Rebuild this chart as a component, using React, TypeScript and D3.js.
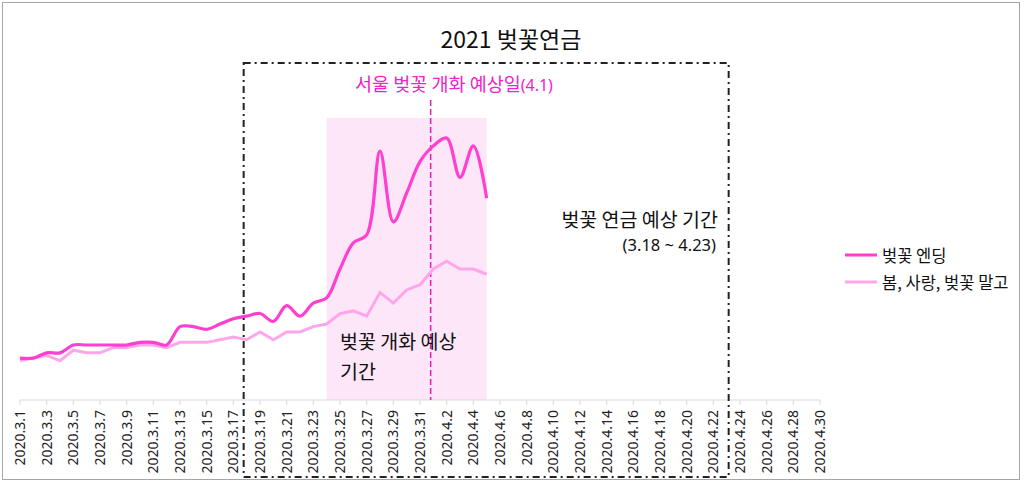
import React from 'react';
import * as d3 from 'd3';

// x축 라벨 (2일 간격)
const tickLabels = [
  '2020.3.1', '2020.3.3', '2020.3.5', '2020.3.7', '2020.3.9', '2020.3.11',
  '2020.3.13', '2020.3.15', '2020.3.17', '2020.3.19', '2020.3.21', '2020.3.23',
  '2020.3.25', '2020.3.27', '2020.3.29', '2020.3.31', '2020.4.2', '2020.4.4',
  '2020.4.6', '2020.4.8', '2020.4.10', '2020.4.12', '2020.4.14', '2020.4.16',
  '2020.4.18', '2020.4.20', '2020.4.22', '2020.4.24', '2020.4.26', '2020.4.28',
  '2020.4.30',
];

// 3.1 부터 하루 단위 값
const endingValues = [
  16, 16, 18, 18, 21, 21, 21, 21, 21, 22, 22, 21, 28, 28, 27, 29, 31, 32,
  33, 30, 36, 32, 37, 39, 50, 60, 63, 95, 68, 79, 91, 97, 100, 85, 97, 77,
];
const springValues = [
  15, 16, 17, 15, 19, 18, 18, 20, 20, 21, 21, 20, 22, 22, 22, 23, 24, 23,
  26, 23, 26, 26, 28, 29, 33, 34, 32, 41, 37, 42, 44, 50, 53, 50, 50, 48,
];

const seriesNames = ['벚꽃 엔딩', '봄, 사랑, 벚꽃 말고'];
const seriesColors = ['#ff3fcf', '#ffa6ea'];

const KR = "'Noto Sans CJK KR', 'Noto Sans', sans-serif";
const NUM = "'Noto Sans', 'Noto Sans CJK KR', sans-serif";

export default function App() {
  const width = 1024;
  const height = 484;

  const x = d3.scaleLinear().domain([0, 60]).range([20, 820]);
  const y = d3.scaleLinear().domain([0, 100]).range([400, 138]);

  const smooth = d3
    .line<number>()
    .x((d, i) => x(i))
    .y((d) => y(d))
    .curve(d3.curveCatmullRom.alpha(0.5));

  const straight = d3
    .line<number>()
    .x((d, i) => x(i))
    .y((d) => y(d));

  // 3.18 ~ 4.23 예상 기간 박스, 3.24 ~ 4.5 개화 기간, 4.1 예상일
  const boxLeft = x(17) - 3;
  const boxRight = x(53) + 2;
  const bloomLeft = x(23);
  const bloomRight = x(35);
  const seoulX = x(30.8);

  return (
    <svg
      width={width}
      height={height}
      style={{ position: 'absolute', left: 0, top: 0, background: '#fff' }}
    >
      <rect x={2.5} y={2.5} width={1017} height={477} fill='#fff' stroke='#a6a6a6' />

      <text x={511} y={48} textAnchor='middle' fontFamily={KR} fontSize={23} fill='#111'>
        2021 벚꽃연금
      </text>

      {/* 개화 예상 기간 */}
      <rect
        x={bloomLeft}
        y={118}
        width={bloomRight - bloomLeft}
        height={y(0) - 118}
        fill='#fde6f7'
      />

      {/* x축 */}
      <g className='x-axis'>
        <line x1={x(0)} x2={x(60)} y1={y(0)} y2={y(0)} stroke='#d9d9d9' strokeWidth={1} />
        {tickLabels.map((t, i) => (
          <g key={t} transform={`translate(${x(i * 2)},${y(0)})`}>
            <line y1={0} y2={5} stroke='#d9d9d9' />
            <text
              transform='translate(5,10) rotate(-90)'
              textAnchor='end'
              fontFamily={NUM}
              fontSize={14}
              fill='#222'
            >
              {t}
            </text>
          </g>
        ))}
      </g>

      {/* 서울 벚꽃 개화 예상일 */}
      <line
        x1={seoulX}
        x2={seoulX}
        y1={100}
        y2={y(0)}
        stroke='#e01fbd'
        strokeWidth={1.5}
        strokeDasharray='6,3'
      />
      <text x={454} y={91} textAnchor='middle' fontFamily={KR} fontSize={18.5} fill='#f022cc'>
        서울 벚꽃 개화 예상일<tspan fontFamily={NUM} fontSize={16}>(4.1)</tspan>
      </text>

      <path d={straight(springValues) || ''} fill='none' stroke={seriesColors[1]} strokeWidth={3} />
      <path d={smooth(endingValues) || ''} fill='none' stroke={seriesColors[0]} strokeWidth={3.2} />

      {/* 연금 예상 기간 박스 */}
      <rect
        x={boxLeft}
        y={63}
        width={boxRight - boxLeft}
        height={414}
        fill='none'
        stroke='#222'
        strokeWidth={2}
        strokeDasharray='7,4,2,4'
      />

      <text x={718} y={227} textAnchor='end' fontFamily={KR} fontSize={19.5} fill='#111'>
        벚꽃 연금 예상 기간
      </text>
      <text x={716} y={251} textAnchor='end' fontFamily={NUM} fontSize={16.5} fill='#111'>
        (3.18 ~ 4.23)
      </text>

      <text x={340} y={349} fontFamily={KR} fontSize={19.5} fill='#111'>
        벚꽃 개화 예상
      </text>
      <text x={340} y={379} fontFamily={KR} fontSize={19.5} fill='#111'>
        기간
      </text>

      {/* 범례 */}
      <g className='legend'>
        {seriesNames.map((name, i) => (
          <g key={name} transform={`translate(845,${255 + i * 27})`}>
            <line x1={0} x2={32} y1={0} y2={0} stroke={seriesColors[i]} strokeWidth={3} />
            <text x={37} y={0} dominantBaseline='central' fontFamily={KR} fontSize={16.5} fill='#111'>
              {name}
            </text>
          </g>
        ))}
      </g>
    </svg>
  );
}
